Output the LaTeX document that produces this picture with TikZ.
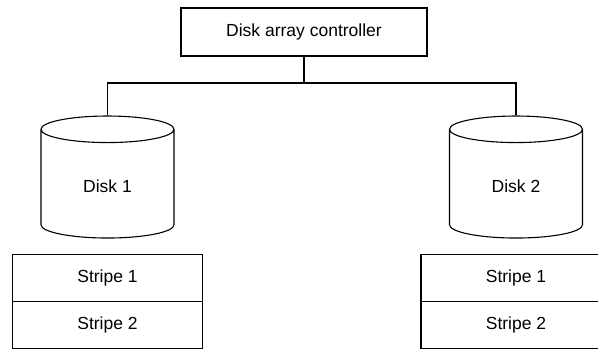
\documentclass[tikz,border=0pt]{standalone}
\usepackage{fontspec}
\setmainfont{Liberation Sans}
\usetikzlibrary{positioning}
\usetikzlibrary{shapes.geometric}

\begin{document}
\begin{tikzpicture}[x=1pt, y=-1pt,
		line width=1.1pt,
		every node/.style={font=\fontsize{17.5}{21}\selectfont},
		box/.style={draw, outer sep=0, minimum height=47},
		disk/.style={draw, cylinder, shape border rotate=90,
			aspect=0.48, minimum width=133, minimum height=122}]
	\clip (0,0) rectangle (598,349);
	\node [box, minimum width=246, minimum height=48] (ctrl) at (304,32) {Disk array controller};
	\node [disk] (disk1) at (107.5,186) {Disk 1};
	\node [disk] (disk2) at (516,186) {Disk 2};
	\node [box, minimum width=190, below=16pt of disk1] (stripeA1) {Stripe 1};
	\node [box, minimum width=190, below=0pt of stripeA1] (stripeA2) {Stripe 2};
	\node [box, minimum width=190, below=16pt of disk2] (stripeB1) {Stripe 1};
	\node [box, minimum width=190, below=0pt of stripeB1] (stripeB2) {Stripe 2};

	\coordinate [below=27pt of ctrl] (bus);
	\draw (ctrl) -- (bus);
	\draw (bus) -| (disk1.top);
	\draw (bus) -| (disk2.top);
\end{tikzpicture}
\end{document}
